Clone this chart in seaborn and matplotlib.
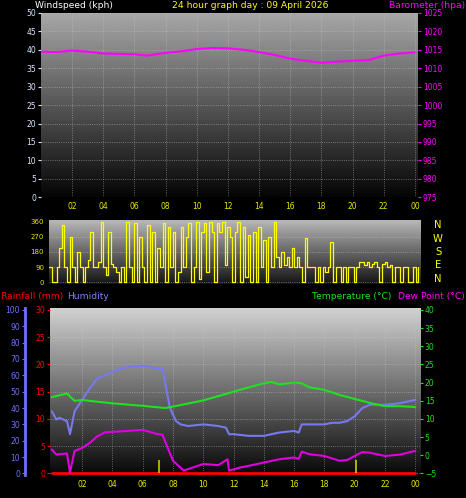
import numpy as np
import pandas as pd
import matplotlib.pyplot as plt
import seaborn as sns

# barometer (hpa)
baro_h = [0, 1, 2, 3, 4, 5, 6, 6.8, 8, 9, 10, 11, 12, 13, 14, 15, 16, 17, 18, 19, 20, 21, 22, 23, 24]
baro_v = [1014.5, 1014.4, 1014.8, 1014.5, 1014.0, 1013.9, 1013.8, 1013.4, 1014.2, 1014.6, 1015.2, 1015.5, 1015.4, 1015.0, 1014.4, 1013.6, 1012.6, 1012.0, 1011.5, 1011.8, 1012.0, 1012.2, 1013.4, 1014.0, 1014.3]

# wind direction, 10-minute samples
wind_dir = [
    90, 0, 0, 90, 200, 340,   90, 0, 270, 90, 0, 180,   90, 0, 90, 130, 300, 90,
    90, 120, 360, 90, 40, 300,   110, 90, 60, 0, 90, 0,   360, 90, 0, 350, 0, 270,
    90, 0, 340, 0, 300, 0,   200, 90, 350, 0, 330, 90,   300, 0, 60, 330, 90, 270,
    350, 0, 90, 360, 20, 300,   350, 60, 360, 300, 0, 350,   300, 360, 100, 330, 270, 0,
    300, 360, 0, 330, 30, 280,   0, 300, 0, 330, 90, 250,   0, 270, 90, 360, 150, 90,
    180, 100, 150, 90, 200, 90,   150, 90, 0, 260, 90, 90,   90, 0, 90, 0, 90, 60,
    90, 240, 0, 90, 90, 0,   90, 0, 90, 90, 0, 90,   120, 120, 100, 120, 90, 110,
    120, 90, 0, 110, 120, 90,   100, 0, 90, 90, 0, 90,   90, 0, 0, 90, 0, 90,
]

hum_h = [0, 0.3, 0.5, 1, 1.2, 1.5, 2, 2.5, 3, 3.5, 4, 4.5, 5, 6, 7, 7.3, 7.8, 8.2, 8.5, 9, 10, 11, 11.5, 11.7, 12, 13, 14, 15, 16, 16.3, 16.5, 17, 18, 18.5, 19, 19.5, 20, 20.5, 21, 22, 23, 24]
hum_v = [38, 33, 34, 32, 24, 38, 45, 52, 58, 60, 62, 64, 65, 66, 64, 64, 40, 32, 30, 29, 30, 29, 28, 24, 24, 23, 23, 25, 26, 25, 30, 30, 30, 31, 31, 32, 35, 40, 42, 42, 43, 45]

temp_h = [0, 1, 1.5, 2, 4, 6, 7.5, 8, 10, 12, 13, 14, 14.5, 15, 16, 16.5, 17, 18, 19, 20, 21, 22, 23, 24]
temp_v = [16, 17, 15, 15.2, 14.3, 13.6, 13, 13.4, 15.1, 17.5, 18.7, 19.8, 20.2, 19.5, 20, 19.8, 18.7, 18, 16.6, 15.5, 14.4, 13.5, 13.5, 13.3]

dew_h = [0, 0.3, 0.5, 1, 1.2, 1.5, 2, 2.5, 3, 3.5, 5, 6, 7, 7.3, 8, 8.7, 9, 10, 11, 11.6, 11.7, 12.5, 13, 14, 15, 16, 16.3, 16.5, 17, 18, 19, 19.5, 20, 20.5, 21, 22, 23, 24]
dew_v = [1.6, 0.2, 0.3, 0.5, -4.7, 1.2, 2, 3.4, 5.2, 6.3, 6.7, 7, 5.8, 5.7, -1.5, -4.2, -3.8, -2.4, -2.7, -1.1, -4.2, -3.3, -2.9, -2, -1.1, -0.6, -1.0, 1.0, 0.3, -0.2, -1.5, -1.3, -0.2, 0.9, 0.7, -0.2, 0.2, 1.2]

rain_h = [0, 24]
rain_v = [0, 0]
marker_h = [7.1, 20.1]

hour_ticks = list(range(2, 25, 2))
hour_labels = ['%02d' % (h % 24) for h in hour_ticks]

sns.set_style("dark")
plt.rcParams['font.family'] = ['DejaVu Sans']

fig = plt.figure(figsize=(4.66, 4.98), dpi=100, facecolor='black')
TXT = 6.6


def gradient(ax, top, bottom):
    g = np.linspace(top, bottom, 256).reshape(-1, 1)
    ax.imshow(g, extent=[0, 1, 0, 1], transform=ax.transAxes, aspect='auto',
              cmap='gray', vmin=0, vmax=1, zorder=0)


def style(ax):
    ax.set_facecolor('black')
    for s in ax.spines.values():
        s.set_visible(False)
    ax.grid(True, color='#c8c8c8', linestyle=':', linewidth=0.6, alpha=0.6)
    ax.tick_params(labelsize=5.5, length=2, pad=1.5)


# ---- top panel: barometer
ax1 = fig.add_axes([0.088, 0.604, 0.809, 0.370])
style(ax1)
gradient(ax1, 0.66, 0.02)
ax1.set_ylim(0, 50)
ax1.set_yticks(range(0, 51, 5))
ax1.tick_params(axis='y', colors='#d8e8ff')
ax1.set_xlim(0, 24.2)
ax1.set_xticks(hour_ticks)
ax1.set_xticklabels(hour_labels)
ax1.tick_params(axis='x', colors='#e8e800')
ax1b = ax1.twinx()
for s in ax1b.spines.values():
    s.set_visible(False)
sns.lineplot(x=baro_h, y=baro_v, ax=ax1b, color='#ff00ff', linewidth=1.5)
ax1b.set_ylim(975, 1025)
ax1b.set_yticks(range(975, 1026, 5))
ax1b.tick_params(axis='y', colors='#ff00ff', labelsize=5.5, length=2, pad=1.5)
fig.text(0.075, 0.989, 'Windspeed (kph)', color='white', fontsize=TXT, va='center')
fig.text(0.37, 0.989, '24 hour graph day : 09 April 2026', color='yellow', fontsize=TXT, va='center')
fig.text(0.998, 0.989, 'Barometer (hpa)', color='#ff00ff', fontsize=TXT, va='center', ha='right')

# ---- middle panel: wind direction
ax2 = fig.add_axes([0.105, 0.430, 0.798, 0.1285])
style(ax2)
ax2.grid(axis='x', visible=False)
gradient(ax2, 0.72, 0.08)
wind_t = np.arange(len(wind_dir)) / 6.0
ax2.step(wind_t, wind_dir, where='post', color='yellow', linewidth=0.9)
ax2.set_ylim(-10, 370)
ax2.set_yticks([0, 90, 180, 270, 360])
ax2.set_xlim(0, 24)
ax2.set_xticks([])
ax2.tick_params(axis='y', colors='#e8e800', labelsize=5)
for i, c in enumerate('NWSEN'):
    fig.text(0.94, 0.548 - i * 0.027, c, color='yellow', fontsize=TXT + 0.6, ha='center', va='center')

# ---- bottom panel
ax3 = fig.add_axes([0.107, 0.046, 0.794, 0.335])
style(ax3)
gradient(ax3, 0.82, 0.03)
ax3.set_xlim(-0.13, 24.3)
ax3.set_ylim(-0.3, 30.3)
ax3.set_yticks(range(0, 31, 5))
ax3.tick_params(axis='y', colors='red')
ax3.set_xticks(hour_ticks)
ax3.set_xticklabels(hour_labels)
ax3.tick_params(axis='x', colors='#e8e800')
sns.lineplot(x=rain_h, y=rain_v, ax=ax3, color='red', linewidth=2)
ax3.vlines(marker_h, 0, 2.4, color='#c8c800', linewidth=1.2)

ax_h = ax3.twinx()
ax_h.spines['left'].set_position(('outward', 18))
ax_h.spines['left'].set_visible(True)
ax_h.spines['left'].set_color('#7070ff')
ax_h.spines['left'].set_linewidth(2)
for s in ['right', 'top', 'bottom']:
    ax_h.spines[s].set_visible(False)
ax_h.yaxis.set_label_position('left')
ax_h.yaxis.tick_left()
sns.lineplot(x=hum_h, y=hum_v, ax=ax_h, color='#7878f0', linewidth=1.5)
ax_h.set_ylim(-1, 101)
ax_h.set_yticks(range(0, 101, 10))
ax_h.tick_params(axis='y', colors='#7070ff', labelsize=5.5, length=2, pad=1.5)

ax_t = ax3.twinx()
for s in ax_t.spines.values():
    s.set_visible(False)
sns.lineplot(x=temp_h, y=temp_v, ax=ax_t, color='#20e020', linewidth=1.5)
sns.lineplot(x=dew_h, y=dew_v, ax=ax_t, color='#e000e0', linewidth=1.5)
ax_t.set_ylim(-5.45, 40.45)
ax_t.set_yticks(range(-5, 41, 5))
ax_t.tick_params(axis='y', colors='#20e020', labelsize=5.5, length=2, pad=1.5)
ax_t.set_xlim(-0.13, 24.3)

fig.text(0.002, 0.405, 'Rainfall (mm)', color='red', fontsize=TXT, va='center')
fig.text(0.145, 0.405, 'Humidity', color='#8080ff', fontsize=TXT, va='center')
fig.text(0.67, 0.405, 'Temperature (°C)', color='#20e020', fontsize=TXT, va='center')
fig.text(0.998, 0.405, 'Dew Point (°C)', color='#ff00ff', fontsize=TXT, va='center', ha='right')

fig.savefig('out.png', dpi=100, facecolor='black')
